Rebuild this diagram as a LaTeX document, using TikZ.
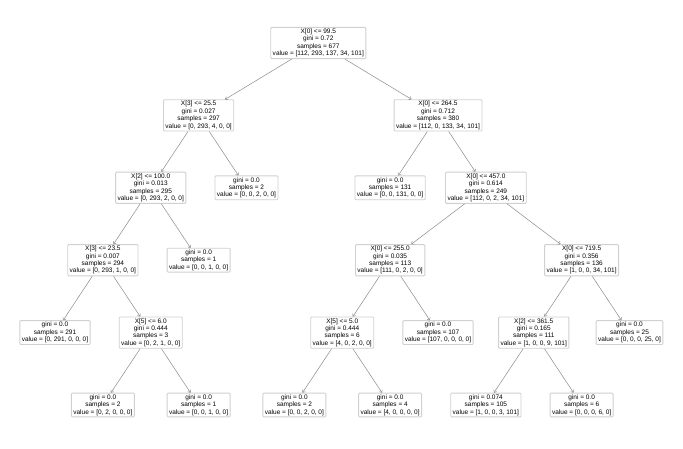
\documentclass[tikz,border=0pt]{standalone}
\usepackage{fontspec}
\setmainfont{Liberation Sans}
\usetikzlibrary{arrows.meta}
\definecolor{boxline}{HTML}{D0D0D0}
\definecolor{edgeline}{HTML}{8C8C8C}
\begin{document}
\begin{tikzpicture}[x=1bp,y=-1bp,
  tnode/.style={draw=boxline, line width=0.9bp, rounded corners=1bp, fill=white,
    inner xsep=2bp, inner ysep=1.5bp, align=center,
    font=\fontsize{6.5bp}{7.4bp}\selectfont},
  tedge/.style={draw=edgeline, line width=0.5bp, -{To[length=2.5bp,width=4bp]}}]
\useasboundingbox[fill=white] (0,0) rectangle (683,449);
\def\u{47.875}
\def\xo{55}
\def\lv{72.4}
% level 0
\node[tnode] (r) at ({\xo+5.5*\u},43) {X[0] <= 99.5\\gini = 0.72\\samples = 677\\value = [112, 293, 137, 34, 101]};
% level 1
\node[tnode] (a) at ({\xo+3*\u},{43+\lv}) {X[3] <= 25.5\\gini = 0.027\\samples = 297\\value = [0, 293, 4, 0, 0]};
\node[tnode] (b) at ({\xo+8*\u},{43+\lv}) {X[0] <= 264.5\\gini = 0.712\\samples = 380\\value = [112, 0, 133, 34, 101]};
% level 2
\node[tnode] (aa) at ({\xo+2*\u},{43+2*\lv}) {X[2] <= 100.0\\gini = 0.013\\samples = 295\\value = [0, 293, 2, 0, 0]};
\node[tnode] (ab) at ({\xo+4*\u},{43+2*\lv}) {gini = 0.0\\samples = 2\\value = [0, 0, 2, 0, 0]};
\node[tnode] (ba) at ({\xo+7*\u},{43+2*\lv}) {gini = 0.0\\samples = 131\\value = [0, 0, 131, 0, 0]};
\node[tnode] (bb) at ({\xo+9*\u},{43+2*\lv}) {X[0] <= 457.0\\gini = 0.614\\samples = 249\\value = [112, 0, 2, 34, 101]};
% level 3
\node[tnode] (aaa) at ({\xo+1*\u},{43+3*\lv}) {X[3] <= 23.5\\gini = 0.007\\samples = 294\\value = [0, 293, 1, 0, 0]};
\node[tnode] (aab) at ({\xo+3*\u},{43+3*\lv}) {gini = 0.0\\samples = 1\\value = [0, 0, 1, 0, 0]};
\node[tnode] (bba) at ({\xo+7*\u},{43+3*\lv}) {X[0] <= 255.0\\gini = 0.035\\samples = 113\\value = [111, 0, 2, 0, 0]};
\node[tnode] (bbb) at ({\xo+11*\u},{43+3*\lv}) {X[0] <= 719.5\\gini = 0.356\\samples = 136\\value = [1, 0, 0, 34, 101]};
% level 4
\node[tnode] (aaaa) at ({\xo+0*\u},{43+4*\lv}) {gini = 0.0\\samples = 291\\value = [0, 291, 0, 0, 0]};
\node[tnode] (aaab) at ({\xo+2*\u},{43+4*\lv}) {X[5] <= 6.0\\gini = 0.444\\samples = 3\\value = [0, 2, 1, 0, 0]};
\node[tnode] (bbaa) at ({\xo+6*\u},{43+4*\lv}) {X[5] <= 5.0\\gini = 0.444\\samples = 6\\value = [4, 0, 2, 0, 0]};
\node[tnode] (bbab) at ({\xo+8*\u},{43+4*\lv}) {gini = 0.0\\samples = 107\\value = [107, 0, 0, 0, 0]};
\node[tnode] (bbba) at ({\xo+10*\u},{43+4*\lv}) {X[2] <= 361.5\\gini = 0.165\\samples = 111\\value = [1, 0, 0, 9, 101]};
\node[tnode] (bbbb) at ({\xo+12*\u},{43+4*\lv}) {gini = 0.0\\samples = 25\\value = [0, 0, 0, 25, 0]};
% level 5
\node[tnode] (aaaba) at ({\xo+1*\u},{43+5*\lv}) {gini = 0.0\\samples = 2\\value = [0, 2, 0, 0, 0]};
\node[tnode] (aaabb) at ({\xo+3*\u},{43+5*\lv}) {gini = 0.0\\samples = 1\\value = [0, 0, 1, 0, 0]};
\node[tnode] (bbaaa) at ({\xo+5*\u},{43+5*\lv}) {gini = 0.0\\samples = 2\\value = [0, 0, 2, 0, 0]};
\node[tnode] (bbaab) at ({\xo+7*\u},{43+5*\lv}) {gini = 0.0\\samples = 4\\value = [4, 0, 0, 0, 0]};
\node[tnode] (bbbaa) at ({\xo+9*\u},{43+5*\lv}) {gini = 0.074\\samples = 105\\value = [1, 0, 0, 3, 101]};
\node[tnode] (bbbab) at ({\xo+11*\u},{43+5*\lv}) {gini = 0.0\\samples = 6\\value = [0, 0, 0, 6, 0]};
% edges
\foreach \p/\c in {r/a, r/b, a/aa, a/ab, b/ba, b/bb, aa/aaa, aa/aab, bb/bba, bb/bbb,
  aaa/aaaa, aaa/aaab, bba/bbaa, bba/bbab, bbb/bbba, bbb/bbbb,
  aaab/aaaba, aaab/aaabb, bbaa/bbaaa, bbaa/bbaab, bbba/bbbaa, bbba/bbbab}
  \draw[tedge] (\p) -- (\c);
\end{tikzpicture}
\end{document}
